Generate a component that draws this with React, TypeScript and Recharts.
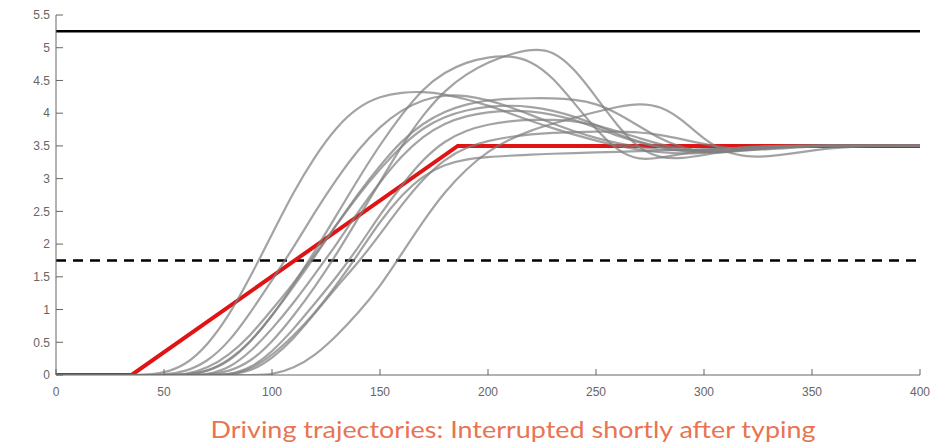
import React from "react";
import { LineChart, Line, XAxis, YAxis, ReferenceLine } from "recharts";

const XS = [0, 10, 20, 30, 40, 50, 60, 70, 80, 90, 100, 110, 120, 130, 140, 150, 160, 170, 180, 190, 200, 210, 220, 230, 240, 250, 260, 270, 280, 290, 300, 310, 320, 330, 340, 350, 360, 370, 380, 390, 400];

const C1 = [0, 0, 0, 0, 0, 0.03, 0.15, 0.45, 0.9, 1.5, 2.15, 2.8, 3.35, 3.8, 4.1, 4.26, 4.32, 4.33, 4.29, 4.21, 4.12, 4.0, 3.88, 3.77, 3.67, 3.58, 3.5, 3.44, 3.4, 3.38, 3.39, 3.42, 3.45, 3.47, 3.49, 3.5, 3.5, 3.5, 3.5, 3.5, 3.5];
const C2 = [0, 0, 0, 0, 0, 0, 0.05, 0.2, 0.5, 0.95, 1.45, 1.95, 2.5, 3.0, 3.45, 3.8, 4.05, 4.21, 4.28, 4.27, 4.2, 4.1, 3.97, 3.84, 3.72, 3.62, 3.54, 3.48, 3.44, 3.43, 3.44, 3.46, 3.48, 3.5, 3.5, 3.5, 3.5, 3.5, 3.5, 3.5, 3.5];
const H2 = [0, 0, 0, 0, 0, 0, 0, 0.05, 0.2, 0.5, 0.9, 1.38, 1.9, 2.45, 3.0, 3.52, 3.98, 4.38, 4.63, 4.78, 4.86, 4.88, 4.8, 4.55, 4.15, 3.75, 3.42, 3.28, 3.32, 3.38, 3.43, 3.46, 3.48, 3.5, 3.5, 3.5, 3.5, 3.5, 3.5, 3.5, 3.5];
const H1 = [0, 0, 0, 0, 0, 0, 0, 0, 0.05, 0.2, 0.5, 0.9, 1.35, 1.85, 2.4, 2.95, 3.5, 3.98, 4.35, 4.6, 4.78, 4.9, 4.98, 4.96, 4.68, 4.25, 3.8, 3.45, 3.31, 3.31, 3.36, 3.42, 3.46, 3.48, 3.5, 3.5, 3.5, 3.5, 3.5, 3.5, 3.5];
const C5 = [0, 0, 0, 0, 0, 0, 0, 0.05, 0.22, 0.5, 0.9, 1.35, 1.82, 2.3, 2.78, 3.2, 3.58, 3.85, 4.03, 4.14, 4.2, 4.22, 4.23, 4.23, 4.21, 4.15, 4.0, 3.8, 3.6, 3.47, 3.4, 3.4, 3.43, 3.46, 3.48, 3.5, 3.5, 3.5, 3.5, 3.5, 3.5];
const C8 = [0, 0, 0, 0, 0, 0, 0, 0, 0.1, 0.35, 0.7, 1.1, 1.55, 2.0, 2.5, 2.95, 3.35, 3.65, 3.85, 3.96, 4.02, 4.04, 4.03, 3.98, 3.9, 3.78, 3.65, 3.55, 3.47, 3.42, 3.4, 3.41, 3.44, 3.47, 3.49, 3.5, 3.5, 3.5, 3.5, 3.5, 3.5];
const C9 = [0, 0, 0, 0, 0, 0, 0, 0, 0, 0.1, 0.35, 0.7, 1.1, 1.5, 1.95, 2.45, 2.9, 3.3, 3.58, 3.74, 3.83, 3.88, 3.9, 3.9, 3.88, 3.82, 3.72, 3.62, 3.52, 3.45, 3.42, 3.42, 3.45, 3.48, 3.5, 3.5, 3.5, 3.5, 3.5, 3.5, 3.5];
const C10 = [0, 0, 0, 0, 0, 0, 0, 0, 0, 0.05, 0.25, 0.55, 0.95, 1.35, 1.72, 2.15, 2.6, 3.0, 3.3, 3.48, 3.58, 3.64, 3.68, 3.7, 3.71, 3.72, 3.72, 3.71, 3.67, 3.6, 3.53, 3.47, 3.44, 3.45, 3.47, 3.49, 3.5, 3.5, 3.5, 3.5, 3.5];
const C7 = [0, 0, 0, 0, 0, 0, 0, 0, 0, 0.08, 0.3, 0.6, 0.95, 1.38, 1.85, 2.35, 2.75, 3.05, 3.22, 3.3, 3.33, 3.35, 3.37, 3.38, 3.39, 3.4, 3.41, 3.42, 3.43, 3.44, 3.45, 3.46, 3.47, 3.48, 3.49, 3.5, 3.5, 3.5, 3.5, 3.5, 3.5];
const C6 = [0, 0, 0, 0, 0, 0, 0, 0, 0, 0, 0, 0.1, 0.3, 0.6, 0.95, 1.35, 1.85, 2.35, 2.8, 3.15, 3.42, 3.6, 3.74, 3.84, 3.93, 4.02, 4.1, 4.15, 4.11, 3.9, 3.6, 3.4, 3.33, 3.34, 3.38, 3.43, 3.47, 3.49, 3.5, 3.5, 3.5];
const C11 = [0, 0, 0, 0, 0, 0, 0, 0.1, 0.3, 0.6, 1.0, 1.4, 1.85, 2.3, 2.75, 3.15, 3.5, 3.78, 3.95, 4.05, 4.1, 4.12, 4.1, 4.04, 3.95, 3.82, 3.68, 3.56, 3.48, 3.43, 3.41, 3.42, 3.45, 3.48, 3.5, 3.5, 3.5, 3.5, 3.5, 3.5, 3.5];

const GRAY_SERIES = { C1, C2, H2, H1, C5, C8, C9, C10, C7, C6, C11 };

const RED_X = [0, 35, 186, 400];
const RED_Y = [0, 0, 3.5, 3.5];

const UPPER_LIMIT = 5.25;
const LOWER_LIMIT = 1.75;

const X_TICKS = [0, 50, 100, 150, 200, 250, 300, 350, 400];
const Y_TICKS = [0, 0.5, 1, 1.5, 2, 2.5, 3, 3.5, 4, 4.5, 5, 5.5];

const TITLE = "Driving trajectories: Interrupted shortly after typing";

const rows = XS.map((x, i) => {
  const r: Record<string, number> = { x };
  Object.entries(GRAY_SERIES).forEach(([k, arr]) => {
    r[k] = arr[i];
  });
  return r;
});
const redRows = RED_X.map((x, i) => ({ x, red: RED_Y[i] }));

const tickStyle = { fontFamily: "Liberation Sans, Arial, sans-serif", fontSize: 12, fill: "#666" };

export default function App() {
  return (
    <div style={{ position: "relative", width: 935, height: 439 }}>
      <LineChart width={935} height={439} data={rows} margin={{ top: 7, right: 23, bottom: 42, left: 0 }}>
        <XAxis
          type="number"
          dataKey="x"
          domain={[0, 400]}
          ticks={X_TICKS}
          interval={0}
          tickSize={-6}
          tickMargin={18}
          height={30}
          stroke="#666"
          tick={tickStyle}
          allowDataOverflow
        />
        <YAxis
          type="number"
          domain={[0, 5.5]}
          ticks={Y_TICKS}
          interval={0}
          tickSize={-7}
          tickMargin={13}
          width={48}
          stroke="#666"
          tick={tickStyle}
          allowDataOverflow
        />
        <ReferenceLine y={UPPER_LIMIT} stroke="#000" strokeWidth={2.5} />
        <ReferenceLine y={LOWER_LIMIT} stroke="#000" strokeWidth={2.5} strokeDasharray="10 7" />
        <Line
          data={redRows}
          dataKey="red"
          type="linear"
          stroke="#e01414"
          strokeWidth={4}
          dot={false}
          isAnimationActive={false}
        />
        {Object.keys(GRAY_SERIES).map((k) => (
          <Line
            key={k}
            dataKey={k}
            type="basis"
            stroke="#808080"
            strokeOpacity={0.72}
            strokeWidth={2.2}
            dot={false}
            isAnimationActive={false}
          />
        ))}
      </LineChart>
      <svg width={935} height={439} style={{ position: "absolute", left: 0, top: 0, pointerEvents: "none" }}>
        <text
          x={505}
          y={430}
          textAnchor="middle"
          textLength={605}
          lengthAdjust="spacingAndGlyphs"
          fontFamily="Lato, 'Open Sans', sans-serif"
          fontSize={24}
          fill="#E87452"
        >
          {TITLE}
        </text>
      </svg>
    </div>
  );
}
